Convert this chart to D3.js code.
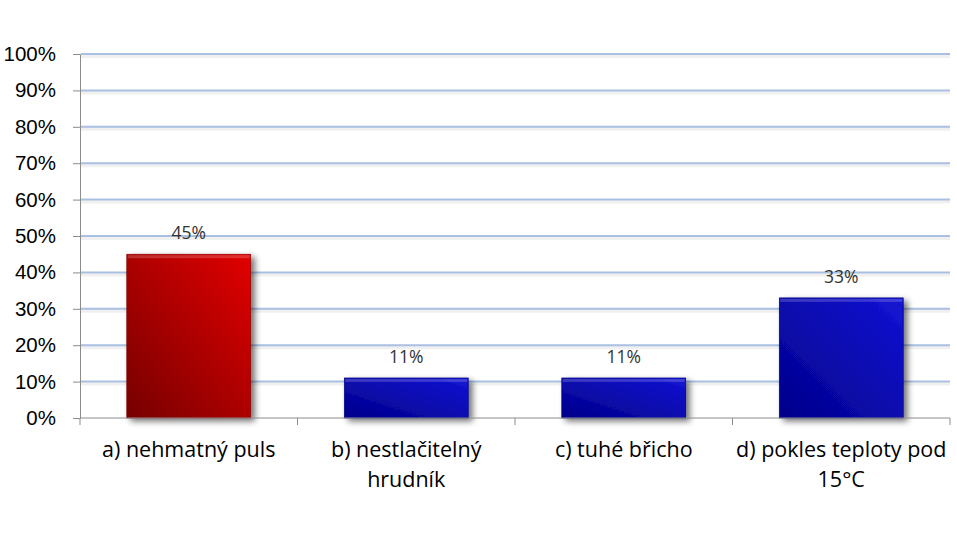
<!DOCTYPE html>
<html>
<head>
<meta charset="utf-8">
<script src="https://cdn.jsdelivr.net/npm/d3@7"></script>
<style>
  body { margin: 0; background: #fff; }
  svg { display: block; font-family: "Open Sans", Lato, sans-serif; }
</style>
</head>
<body>
<svg id="chart"></svg>
<script>
const categories = ['a) nehmatný puls', 'b) nestlačitelný hrudník', 'c) tuhé břicho', 'd) pokles teploty pod 15°C'];
const labelLines = [['a) nehmatný puls'], ['b) nestlačitelný', 'hrudník'], ['c) tuhé břicho'], ['d) pokles teploty pod', '15°C']];
const values = [0.45, 0.11, 0.11, 0.33];
const yTicks = [0, 0.1, 0.2, 0.3, 0.4, 0.5, 0.6, 0.7, 0.8, 0.9, 1.0];

const W = 957, H = 556;
const margin = {top: 54, right: 7, bottom: 138, left: 80};
const width = W - margin.left - margin.right;
const height = H - margin.top - margin.bottom;

const root = d3.select('#chart').attr('width', W).attr('height', H);
const defs = root.append('defs');

// bar gradients: dark lower-left, bright upper-right
const grads = {red: ['#760000', '#e20606'], blue: ['#00008a', '#1414d4']};
Object.entries(grads).forEach(([k, c]) => {
  const g = defs.append('linearGradient').attr('id', 'g-' + k)
  .attr('x1', '0%').attr('y1', '100%').attr('x2', '100%').attr('y2', '0%');
  g.append('stop').attr('offset', '0%').attr('stop-color', c[0]);
  g.append('stop').attr('offset', '100%').attr('stop-color', c[1]);
});

const shadow = defs.append('filter').attr('id', 'shadow')
.attr('x', '-20%').attr('y', '-20%').attr('width', '150%').attr('height', '150%');
shadow.append('feGaussianBlur').attr('in', 'SourceAlpha').attr('stdDeviation', 3).attr('result', 'b');
shadow.append('feOffset').attr('in', 'b').attr('dx', 4).attr('dy', 3).attr('result', 'o');
shadow.append('feComponentTransfer').attr('in', 'o').attr('result', 'o2')
.append('feFuncA').attr('type', 'linear').attr('slope', 0.55);
const m = shadow.append('feMerge');
m.append('feMergeNode').attr('in', 'o2');
m.append('feMergeNode').attr('in', 'SourceGraphic');

const svg = root.append('g').attr('transform', `translate(${margin.left}, ${margin.top})`);

const x = d3.scaleBand().domain(categories).range([0, width]).paddingInner(0.43).paddingOuter(0.215);
const xEdge = d3.scaleBand().domain(categories).range([0, width]);
const y = d3.scaleLinear().domain([0, 1]).range([height, 0]);

// gridlines with a soft shadow under each
const grid = svg.append('g');
grid.selectAll('line.gs')
.data(yTicks.slice(1))
.enter()
.append('line')
.attr('class', 'gs')
.attr('x1', 1).attr('x2', width)
.attr('y1', d => y(d) + 2).attr('y2', d => y(d) + 2)
.attr('stroke', '#000').attr('stroke-opacity', 0.06).attr('stroke-width', 4);
grid.selectAll('line.gl')
.data(yTicks.slice(1))
.enter()
.append('line')
.attr('class', 'gl')
.attr('x1', 1).attr('x2', width)
.attr('y1', d => y(d)).attr('y2', d => y(d))
.attr('stroke', '#a9c0e2').attr('stroke-width', 2);

// y axis
const yAxis = svg.append('g')
.call(d3.axisLeft(y).tickValues(yTicks).tickFormat(d3.format('.0%')).tickSize(7).tickPadding(17));
yAxis.select('.domain').attr('stroke', '#8c8c8c');
yAxis.selectAll('.tick line').attr('stroke', '#8c8c8c');
yAxis.selectAll('.tick text').style('font-size', '20.5px').style('fill', '#000');

// bars
svg.selectAll('rect.bar')
.data(values)
.enter()
.append('rect')
.attr('class', 'bar')
.attr('x', (d, i) => x(categories[i]))
.attr('y', d => y(d))
.attr('width', x.bandwidth())
.attr('height', d => height - y(d))
.attr('fill', (d, i) => i === 0 ? 'url(#g-red)' : 'url(#g-blue)')
.attr('stroke', (d, i) => i === 0 ? '#8a0000' : '#00007a')
.attr('stroke-width', 0.6)
.attr('filter', 'url(#shadow)');

// bevel highlights
svg.selectAll('rect.hl')
.data(values)
.enter()
.append('rect')
.attr('class', 'hl')
.attr('x', (d, i) => x(categories[i]) + 1)
.attr('y', d => y(d) + 1)
.attr('width', x.bandwidth() - 2)
.attr('height', 3)
.attr('fill', 'rgba(255,255,255,0.18)');

// x axis
const xAxis = svg.append('g').attr('transform', `translate(0, ${height})`);
xAxis.append('line').attr('x1', 0).attr('x2', width).attr('stroke', '#8c8c8c');
xAxis.selectAll('line.tk')
.data(categories.map(c => xEdge(c)).concat([width]))
.enter()
.append('line')
.attr('class', 'tk')
.attr('x1', d => d).attr('x2', d => d)
.attr('y1', 0).attr('y2', 7)
.attr('stroke', '#8c8c8c');

categories.forEach((c, i) => {
  const t = xAxis.append('text')
  .attr('x', x(c) + x.bandwidth() / 2)
  .attr('y', 39)
  .attr('text-anchor', 'middle')
  .style('font-size', '21.5px')
  .style('fill', '#000');
  labelLines[i].forEach((ln, j) => {
    t.append('tspan').attr('x', x(c) + x.bandwidth() / 2).attr('dy', j === 0 ? 0 : 30).text(ln);
  });
});

// data labels
svg.selectAll('text.val')
.data(values)
.enter()
.append('text')
.attr('class', 'val')
.attr('x', (d, i) => x(categories[i]) + x.bandwidth() / 2)
.attr('y', d => y(d) - 15)
.attr('text-anchor', 'middle')
.style('font-size', '17.5px')
.style('fill', '#333')
.text(d => d3.format('.0%')(d));
</script>
</body>
</html>
